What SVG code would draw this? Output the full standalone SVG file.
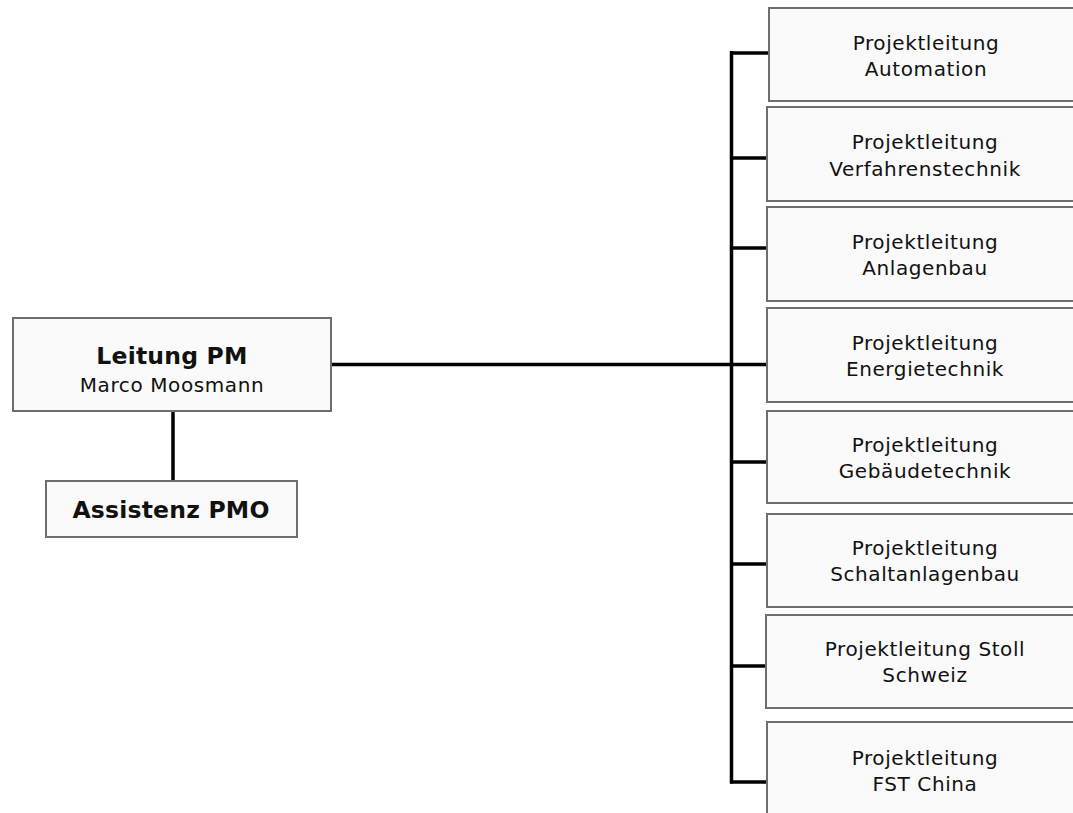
<svg xmlns="http://www.w3.org/2000/svg" width="1073" height="813" viewBox="0 0 1073 813">
<style>
.box{fill:#fafafa;stroke:#6e6e6e;stroke-width:2}
.t{font-family:"DejaVu Sans","Verdana",sans-serif;font-size:20px;letter-spacing:0.6px;fill:#111;text-anchor:middle}
.b{font-family:"DejaVu Sans","Verdana",sans-serif;font-size:23.5px;font-weight:bold;letter-spacing:0.2px;fill:#111;text-anchor:middle}
.c{stroke:#000;stroke-width:3.5;fill:none}
</style>
<rect width="1073" height="813" fill="#fff"/>
<g id="connectors">
<line class="c" x1="331" y1="364.5" x2="767" y2="364.5"/>
<line class="c" x1="173" y1="411" x2="173" y2="481"/>
<line class="c" x1="731.5" y1="51" x2="731.5" y2="783.5"/>
<line class="c" x1="730" y1="53" x2="769" y2="53"/>
<line class="c" x1="730" y1="158" x2="767" y2="158"/>
<line class="c" x1="730" y1="248" x2="767" y2="248"/>
<line class="c" x1="730" y1="462" x2="767" y2="462"/>
<line class="c" x1="730" y1="564" x2="767" y2="564"/>
<line class="c" x1="730" y1="666" x2="767" y2="666"/>
<line class="c" x1="730" y1="782" x2="767" y2="782"/>
</g>
<g id="leitung">
<rect class="box" x="13" y="318" width="318" height="93"/>
<text class="b" x="172" y="364">Leitung PM</text>
<text class="t" x="172" y="391.5">Marco Moosmann</text>
</g>
<g id="assistenz">
<rect class="box" x="46" y="481" width="251" height="56"/>
<text class="b" x="171" y="518">Assistenz PMO</text>
</g>
<g id="pl1">
<rect class="box" x="769" y="8" width="330" height="93"/>
<text class="t" x="926" y="50">Projektleitung</text>
<text class="t" x="926" y="75.5">Automation</text>
</g>
<g id="pl2">
<rect class="box" x="767" y="107" width="330" height="94"/>
<text class="t" x="925" y="149">Projektleitung</text>
<text class="t" x="925" y="175.5">Verfahrenstechnik</text>
</g>
<g id="pl3">
<rect class="box" x="767" y="207" width="330" height="94"/>
<text class="t" x="925" y="249">Projektleitung</text>
<text class="t" x="925" y="275">Anlagenbau</text>
</g>
<g id="pl4">
<rect class="box" x="767" y="308" width="330" height="94"/>
<text class="t" x="925" y="350">Projektleitung</text>
<text class="t" x="925" y="376">Energietechnik</text>
</g>
<g id="pl5">
<rect class="box" x="767" y="411" width="330" height="92"/>
<text class="t" x="925" y="452">Projektleitung</text>
<text class="t" x="925" y="478">Gebäudetechnik</text>
</g>
<g id="pl6">
<rect class="box" x="767" y="514" width="330" height="93"/>
<text class="t" x="925" y="555">Projektleitung</text>
<text class="t" x="925" y="581">Schaltanlagenbau</text>
</g>
<g id="pl7">
<rect class="box" x="766" y="615" width="330" height="93"/>
<text class="t" x="925" y="656">Projektleitung Stoll</text>
<text class="t" x="925" y="682">Schweiz</text>
</g>
<g id="pl8">
<rect class="box" x="767" y="722" width="330" height="100"/>
<text class="t" x="925" y="765">Projektleitung</text>
<text class="t" x="925" y="790.5">FST China</text>
</g>
</svg>
